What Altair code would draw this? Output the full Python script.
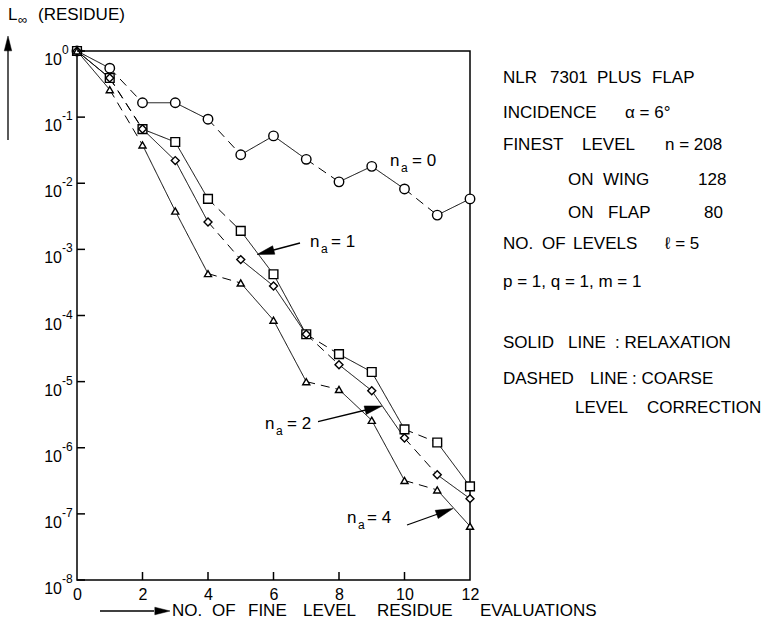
import altair as alt
import pandas as pd

FONT = "Liberation Sans"
X0, Y0 = 77, 51          # page position of the plot origin (top-left of frame)
W, H = 393, 529          # plot area

# ---------------- data ----------------
evals = list(range(13))
na0 = [1.0, 0.55, 0.165, 0.165, 0.093, 0.027, 0.052, 0.023, 0.0105, 0.018, 0.0082, 0.0033, 0.0058]
na1 = [1.0, 0.39, 0.066, 0.042, 0.0058, 0.0019, 0.00042, 5.2e-5, 2.6e-5, 1.4e-5, 1.9e-6, 1.2e-6, 2.6e-7]
na2 = [1.0, 0.39, 0.066, 0.022, 0.0026, 0.0007, 0.00028, 5.2e-5, 1.8e-5, 7.3e-6, 1.4e-6, 3.9e-7, 1.7e-7]
na4 = [1.0, 0.26, 0.038, 0.0038, 0.00043, 0.00031, 8.5e-5, 1.0e-5, 7.6e-6, 2.6e-6, 3.2e-7, 2.3e-7, 6.5e-8]
series_names = ["0", "1", "2", "4"]
step_style = ["solid", "dashed", "solid", "solid", "dashed", "solid",
              "solid", "dashed", "solid", "solid", "dashed", "solid"]
decades = [1e0, 1e-1, 1e-2, 1e-3, 1e-4, 1e-5, 1e-6, 1e-7, 1e-8]
decade_exp = ["0", "-1", "-2", "-3", "-4", "-5", "-6", "-7", "-8"]
x_labels = [0, 2, 4, 6, 8, 10, 12]
x_ticks = [2, 4, 6, 8, 10]

# ---------------- tables ----------------
all_series = [na0, na1, na2, na4]
pts = pd.DataFrame([
    {"series": s, "x": x, "v": v}
    for s, vals in zip(series_names, all_series) for x, v in zip(evals, vals)
])
segs = pd.DataFrame([
    {"series": s, "x": evals[i], "x2": evals[i + 1], "v": vals[i], "v2": vals[i + 1], "style": step_style[i]}
    for s, vals in zip(series_names, all_series) for i in range(len(evals) - 1)
])
dec_df = pd.DataFrame({"v": decades, "exp": decade_exp})
xt_df = pd.DataFrame({"t": x_ticks})
one = pd.DataFrame({"k": [0]})

xscale = alt.Scale(domain=[0, 12], nice=False, zero=False)
yscale = alt.Scale(type="log", domain=[1e-8, 1], nice=False)
xaxis = alt.Axis(values=x_labels, title=None, grid=False, ticks=False, domain=False,
                 labelFont=FONT, labelFontSize=16, labelColor="black", labelPadding=6,
                 labelFlush=False, labelOverlap=False, format="d")

# ---------------- data marks ----------------
lines = alt.Chart(segs).mark_rule(color="black", strokeWidth=1).encode(
    x=alt.X("x:Q", scale=xscale, axis=xaxis),
    x2="x2:Q",
    y=alt.Y("v:Q", scale=yscale, axis=None),
    y2="v2:Q",
    strokeDash=alt.StrokeDash("style:N", scale=alt.Scale(domain=["solid", "dashed"], range=[[1, 0], [9, 6]]), legend=None),
    detail="series:N",
)

points = alt.Chart(pts).mark_point(filled=True, fill="white", stroke="black", strokeWidth=1.4, opacity=1).encode(
    x=alt.X("x:Q", scale=xscale, axis=xaxis),
    y=alt.Y("v:Q", scale=yscale, axis=None),
    shape=alt.Shape("series:N", scale=alt.Scale(domain=series_names, range=["circle", "square", "diamond", "triangle-up"]), legend=None),
    size=alt.Size("series:N", scale=alt.Scale(domain=series_names, range=[90, 50, 60, 100]), legend=None),
)

# ---------------- axes decorations ----------------
yticks = alt.Chart(dec_df).mark_rule(color="black", strokeWidth=1.5).encode(
    y=alt.Y("v:Q", scale=yscale, axis=None), x=alt.value(0), x2=alt.value(8))
xticks = alt.Chart(xt_df).mark_rule(color="black", strokeWidth=1.5).encode(
    x=alt.X("t:Q", scale=xscale, axis=xaxis), y=alt.value(H), y2=alt.value(H - 8))
ylab10 = alt.Chart(dec_df).mark_text(text="10", align="right", baseline="middle", dy=9,
                                     font=FONT, fontSize=16, color="black").encode(
    y=alt.Y("v:Q", scale=yscale, axis=None), x=alt.value(62 - X0))
ylabexp = alt.Chart(dec_df).mark_text(align="left", baseline="middle", dy=-1,
                                      font=FONT, fontSize=12, color="black").encode(
    y=alt.Y("v:Q", scale=yscale, axis=None), x=alt.value(62 - X0), text="exp:N")


def label(text, x, y, size=17, align="left", italic=False):
    kw = dict(text=text, align=align, baseline="middle", font=FONT, fontSize=size, color="black")
    if italic:
        kw["fontStyle"] = "italic"
    return alt.Chart(one).mark_text(**kw).encode(x=alt.value(x - X0), y=alt.value(y - Y0))


def seg(x1, y1, x2, y2, w=1.3):
    return alt.Chart(one).mark_rule(color="black", strokeWidth=w).encode(
        x=alt.value(x1 - X0), y=alt.value(y1 - Y0), x2=alt.value(x2 - X0), y2=alt.value(y2 - Y0))


HEAD = "M0,0 L-2,-0.5 L-2,0.5 Z"


def head(x, y, angle, size):
    return alt.Chart(one).mark_point(shape=HEAD, filled=True, fill="black", stroke="black",
                                     strokeWidth=0.5, opacity=1, size=size, angle=angle).encode(
        x=alt.value(x - X0), y=alt.value(y - Y0))


TY = 611  # x-axis title row
texts = [
    # y axis title
    label("L", 8, 15), label("∞", 18, 20, size=13), label("(RESIDUE)", 38, 15),
    # x axis title
    label("NO.", 172, TY), label("OF", 212, TY), label("FINE", 248, TY),
    label("LEVEL", 303, TY), label("RESIDUE", 377, TY), label("EVALUATIONS", 480, TY),
    # curve labels
    label("n", 390, 161), label("a", 401, 168, size=12), label("= 0", 412, 161),
    label("n", 310, 242), label("a", 321, 249, size=12), label("= 1", 331, 242),
    label("n", 265, 424), label("a", 276, 431, size=12), label("= 2", 287, 424),
    label("n", 347, 518), label("a", 358, 525, size=12), label("= 4", 367, 518),
    # right text block
    label("NLR", 503, 78), label("7301", 550, 78), label("PLUS", 597, 78), label("FLAP", 652, 78),
    label("INCIDENCE", 503, 113), label("α = 6°", 625, 113),
    label("FINEST", 503, 145), label("LEVEL", 582, 145), label("n = 208", 665, 145),
    label("ON", 568, 180), label("WING", 603, 180), label("128", 698, 180),
    label("ON", 568, 213), label("FLAP", 608, 213), label("80", 704, 213),
    label("NO.", 503, 244), label("OF", 542, 244), label("LEVELS", 573, 244), label("ℓ = 5", 665, 244),
    label("p = 1, q = 1, m = 1", 503, 282),
    label("SOLID", 503, 343), label("LINE", 568, 343), label(": RELAXATION", 615, 343),
    label("DASHED", 503, 379), label("LINE", 590, 379), label(": COARSE", 632, 379),
    label("LEVEL", 575, 408), label("CORRECTION", 647, 408),
]

arrows = [
    seg(8, 140, 8, 50), head(8, 36, 270, 220),
    seg(100, TY, 154, TY), head(170, TY, 0, 230),
    seg(300, 243, 268, 251.5), head(257, 254.5, 165, 300),
    seg(318, 421.7, 370, 409), head(382, 406, 346, 300),
    seg(407, 525, 442, 512.5), head(453, 508.5, 340, 300),
]

chart = alt.layer(
    lines, points, yticks, xticks, ylab10, ylabexp, *texts, *arrows
).properties(
    width=W, height=H,
    padding={"left": X0, "top": Y0, "right": 766 - X0 - W, "bottom": 626 - Y0 - H},
    autosize=alt.AutoSizeParams(type="none"),
    background="white",
).configure_view(stroke="black", strokeWidth=1.5)

chart.save("out.html", embed_options={"renderer": "svg", "actions": False})
